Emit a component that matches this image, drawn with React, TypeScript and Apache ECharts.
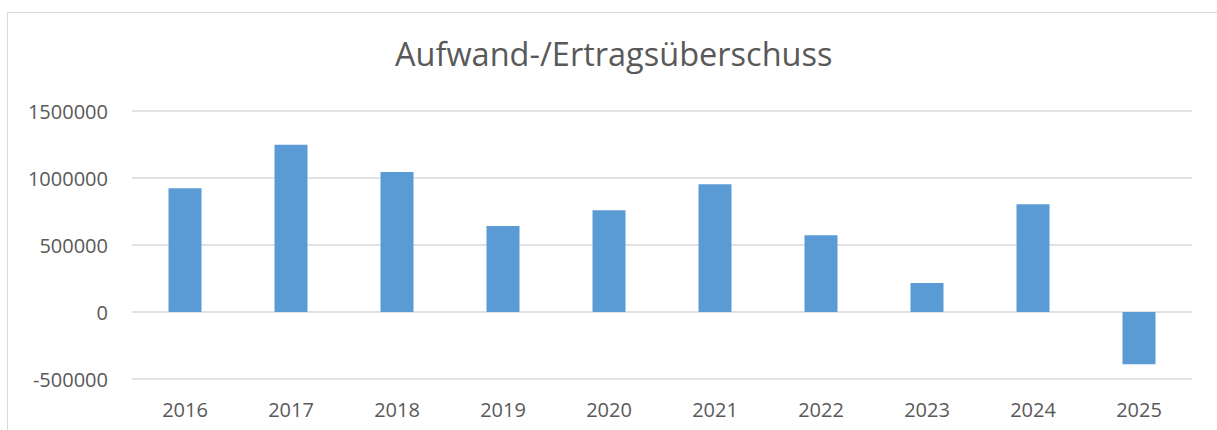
import React, { useEffect, useRef } from "react";
import * as echarts from "echarts";

const categories = ["2016", "2017", "2018", "2019", "2020", "2021", "2022", "2023", "2024", "2025"];
const values = [923000, 1249000, 1045000, 642000, 759000, 953000, 572000, 216000, 804000, -390000];
const yTicks = { min: -500000, max: 1500000, interval: 500000 };
const title = "Aufwand-/Ertragsüberschuss";

export default function App() {
  const ref = useRef<HTMLDivElement>(null);
  useEffect(() => {
    document.body.style.margin = "0";
    const chart = echarts.init(ref.current!, null, { renderer: "svg" });
    const font = "'Open Sans', 'Liberation Sans', sans-serif";
    chart.setOption({
      animation: false,
      backgroundColor: "#ffffff",
      textStyle: { fontFamily: font },
      title: {
        text: title,
        left: 395,
        top: 37,
        padding: 0,
        textStyle: { fontSize: 32.5, fontWeight: "normal", color: "#595959", fontFamily: font },
      },
      graphic: [
        {
          type: "rect",
          shape: { x: 7.5, y: 12.5, width: 1400, height: 600 },
          style: { fill: "none", stroke: "#d9d9d9", lineWidth: 1 },
          silent: true,
        },
      ],
      grid: { left: 132, right: 25, top: 111, bottom: 51 },
      xAxis: {
        type: "category",
        data: categories,
        axisLine: { show: false },
        axisTick: { show: false },
        axisLabel: { color: "#595959", fontSize: 20, margin: 20, fontFamily: font },
      },
      yAxis: {
        type: "value",
        min: yTicks.min,
        max: yTicks.max,
        interval: yTicks.interval,
        axisLine: { show: false },
        axisTick: { show: false },
        axisLabel: {
          color: "#595959",
          fontSize: 20,
          margin: 24,
          fontFamily: font,
          formatter: (v: number) => String(v),
        },
        splitLine: { lineStyle: { color: "#d9d9d9", width: 1.5 } },
      },
      series: [
        {
          type: "bar",
          data: values,
          barWidth: 33,
          itemStyle: { color: "#5b9bd5" },
        },
      ],
    });
    return () => chart.dispose();
  }, []);
  return <div ref={ref} style={{ width: 1217, height: 430, position: "absolute", left: 0, top: 0 }} />;
}
